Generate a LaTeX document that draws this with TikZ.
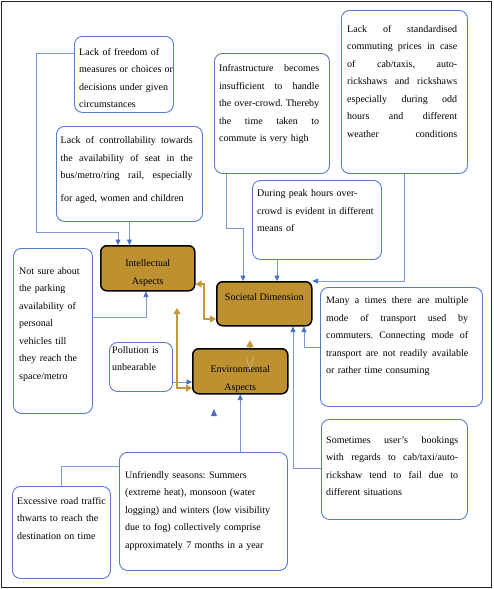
\documentclass[tikz,border=0pt]{standalone}
\usepackage{fontspec}
\setmainfont{Liberation Serif}
\usetikzlibrary{arrows.meta}

\definecolor{goldfill}{RGB}{189,144,48}
\definecolor{goldline}{RGB}{196,152,62}
\definecolor{boxblue}{RGB}{86,122,200}
\definecolor{linkblue}{RGB}{120,152,214}
\definecolor{tipblue}{RGB}{68,110,196}

\tikzset{
  ibox/.style = {draw = boxblue, line width = 0.9pt, rounded corners = 8pt, fill = white, inner sep = 0pt},
  gbox/.style = {draw = black, line width = 1.5pt, rounded corners = 6pt, fill = goldfill, inner sep = 0pt},
  itext/.style = {inner sep = 0pt, align = left, font = \fontsize{10}{17.5}\selectfont\frenchspacing},
  gtext/.style = {inner sep = 0pt, align = center, font = \fontsize{10}{18}\selectfont},
  link/.style = {draw = linkblue, line width = 0.6pt},
  conn/.style = {link, -{Triangle[width = 5pt, length = 5.5pt, color = tipblue]}},
  goldarrow/.style = {draw = goldline, line width = 2pt},
}

% justified line
\newcommand{\jl}[1]{\leavevmode\hbox to\hsize{\spaceskip=0pt \xspaceskip=0pt #1}}
% name, x, y, w, h, text dx, text dy, text width, text
\newcommand{\infobox}[9]{%
  \node [ibox, minimum width = #4pt, minimum height = #5pt, anchor = north west] (#1) at (#2, #3) {};
  \node [itext, text width = #8pt, anchor = north west] (#1-t) at ([shift = {(#6, #7)}]#1.north west) {#9};
}
% name, x, y, w, h, text dy, text
\newcommand{\aspectbox}[7]{%
  \node [gbox, minimum width = #4pt, minimum height = #5pt, anchor = north west] (#1) at (#2, #3) {};
  \node [gtext, anchor = north] (#1-t) at ([shift = {(0, #6)}]#1.north) {#7};
}

\begin{document}
\begin{tikzpicture}[x = 1pt, y = -1pt]
\useasboundingbox (0, 0) rectangle (493, 589);

% frame
\draw [line width = 1.4pt, black!85] (1.5, 1.5) rectangle (491.5, 587.5);

% causes
\infobox{freedom}{74}{36}{99}{76}{5}{12}{96}{Lack of freedom of\\measures or choices or\\decisions under given\\circumstances}
\infobox{seat}{56}{126}{146}{95}{4.5}{10.5}{132}{\jl{Lack of controllability towards}\\\jl{the availability of seat in the}\\\jl{bus/metro/ring rail, especially}\\[5pt]for aged, women and children}
\infobox{infra}{214}{53}{115}{120}{5}{11.5}{100}{\jl{Infrastructure becomes}\\\jl{insufficient to handle}\\\jl{the over-crowd. Thereby}\\\jl{the time taken to}\\commute is very high}
\infobox{prices}{341}{10}{126}{163}{6}{15}{110}{\jl{Lack of standardised}\\\jl{commuting prices in case}\\\jl{of cab/taxis, auto-}\\\jl{rickshaws and rickshaws}\\\jl{especially during odd}\\\jl{hours and different}\\\jl{weather conditions}}
\infobox{peak}{252}{180}{129}{79}{5}{9.5}{122}{During peak hours over-\\crowd is evident in different\\means of}
\infobox{parking}{13}{248}{79}{165}{6}{19}{72}{Not sure about\\the parking\\availability of\\personal\\vehicles till\\they reach the\\space/metro}
\infobox{pollution}{109}{342}{63}{49}{3}{4}{58}{Pollution is\\unbearable}
\infobox{multimode}{320}{287}{162}{119}{6}{9.5}{142}{\jl{Many a times there are multiple}\\\jl{mode of transport used by}\\\jl{commuters. Connecting mode of}\\\jl{transport are not readily available}\\or rather time consuming}
\infobox{booking}{321}{419}{146}{100}{5}{17}{132}{\jl{Sometimes user’s bookings}\\\jl{with regards to cab/taxi/auto-}\\\jl{rickshaw tend to fail due to}\\different situations}
\infobox{seasons}{119}{452}{168}{118}{6}{19}{158}{Unfriendly seasons: Summers\\(extreme heat), monsoon (water\\logging) and winters (low visibility\\due to fog) collectively comprise\\approximately 7 months in a year}
\infobox{traffic}{12}{486}{98}{92}{5}{11}{90}{Excessive road traffic\\thwarts to reach the\\destination on time}

% aspects
\aspectbox{intel}{100}{245}{94}{45}{14}{Intellectual\\Aspects}
\aspectbox{society}{216}{281}{95}{44}{12.3}{Societal Dimension}
\aspectbox{enviro}{192}{348}{95}{45}{17}{Environmental\\Aspects}

% links to intellectual
\draw [conn] ([shift = {(0, 17)}]freedom.north west) -| (36, 232) -| ([shift = {(18, 0)}]intel.north west);
\draw [conn] (seat.south) -- (seat.south |- intel.north);
\draw [conn] ([shift = {(0, 69)}]parking.north east) -| ([shift = {(46, 0)}]intel.south west);

% links to societal
\draw [conn] ([shift = {(12, 0)}]infra.south west) |- (243, 228) -- ([shift = {(27, 0)}]society.north west);
\coordinate (peakfoot) at ([shift = {(25, 0)}]peak.south west);
\draw [conn] (peakfoot) -- (peakfoot |- society.north);
\draw [conn] (prices.south) |- (society.north east);
\draw [conn] ([shift = {(0, 60)}]multimode.north west) -| ([shift = {(88, 0)}]society.south west);
\draw [conn] ([shift = {(0, 49)}]booking.north west) -| ([shift = {(77, 0)}]society.south west);

% links to environmental
\draw [conn] (enviro.south |- seasons.north) -- (enviro.south);
\draw [link] (traffic.north) |- ([shift = {(0, 14)}]seasons.north west);
\coordinate (pollfoot) at ([shift = {(0, 40)}]pollution.north east);
\draw [conn] (pollfoot) -- (pollfoot -| enviro.west);
\fill [tipblue] (211, 416) -- (217, 416) -- (214, 409) -- cycle;

% between aspects
\draw [goldarrow, {Triangle[width = 7pt, length = 6pt]}-{Triangle[width = 7pt, length = 6pt]}] ([shift = {(0, 39)}]intel.north east) -- ++(8, 0) |- ([shift = {(0, 38)}]society.north west);
\coordinate (goldtop) at (177, 308);
\draw [goldarrow, {Triangle[width = 7pt, length = 6pt]}-{Triangle[width = 7pt, length = 6pt]}] (goldtop) |- ([shift = {(0, 40)}]enviro.north west);
\draw [goldarrow, -{Triangle[width = 7pt, length = 7pt]}] ([shift = {(58, 0)}]enviro.north west) -- ++(0, -8);
\draw [goldfill!55!white, line width = 0.5pt] (246, 356) -- (250, 370) -- (254, 356);
\end{tikzpicture}
\end{document}
